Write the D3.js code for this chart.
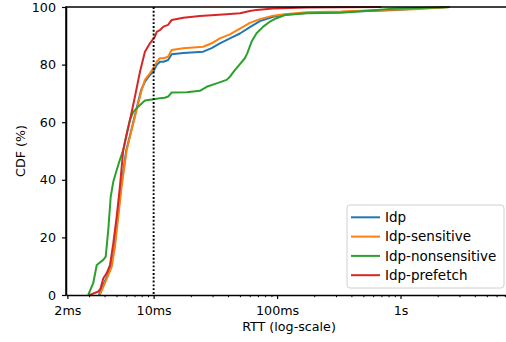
<!DOCTYPE html>
<html><head><meta charset="utf-8">
<script src="https://cdn.jsdelivr.net/npm/d3@7"></script>
<style>
body{margin:0;background:#fff;}
svg text{font-family:"DejaVu Sans",sans-serif;fill:#000;}
</style></head>
<body><svg id="c" width="506" height="342"></svg>
<script>
// ---- data (RTT in ms, CDF in %) ----
const seriesNames = ["Idp", "Idp-sensitive", "Idp-nonsensitive", "Idp-prefetch"];
const seriesColors = ["#1f77b4", "#ff7f0e", "#2ca02c", "#d62728"];

const idpRtt = [3.6, 3.9, 4.2, 4.5, 4.8, 5.1, 5.45, 6.0, 6.6, 7.2, 7.9, 8.5, 9.33, 9.93, 10.6, 11.25, 12.0, 13.1, 14.0, 17.4, 25.2, 29.5, 34.4, 41.5, 50, 60.2, 72.6, 93, 115, 173, 330, 930, 1500, 2500];
const idpCdf = [0, 3.5, 6.5, 9.5, 16, 26.5, 37.5, 50.3, 57.3, 64, 71, 74.1, 76.4, 77.5, 79.9, 81.0, 81.0, 81.6, 83.6, 84.0, 84.5, 85.7, 87.4, 89.1, 90.8, 93.0, 95.1, 96.6, 97.3, 97.9, 98.3, 99.0, 99.6, 100];

const sensRtt = [3.67, 4.03, 4.29, 4.57, 4.86, 5.17, 5.5, 6.05, 6.63, 7.28, 7.99, 8.5, 9.33, 9.93, 10.6, 11.25, 12.0, 13.1, 14.0, 17.4, 25.2, 29.5, 34.4, 41.5, 50, 60.2, 72.6, 93, 115, 173, 330, 700, 1300, 2500];
const sensCdf = [0, 4.1, 6.9, 9.8, 16.8, 27.2, 37.6, 50.3, 57.3, 64.2, 71.2, 74.7, 77.0, 78.7, 81.0, 82.2, 82.2, 82.7, 85.1, 85.7, 86.2, 87.4, 89.1, 90.5, 92.5, 94.5, 95.8, 97.0, 97.5, 98.2, 98.4, 99.0, 99.2, 100];

const nonsRtt = [2.95, 3.24, 3.46, 3.91, 4.09, 4.29, 4.49, 4.71, 5.02, 5.27, 5.67, 6.05, 6.43, 6.84, 7.5, 8.5, 9.63, 11.25, 12.3, 13.1, 14.0, 18.5, 23.7, 26.9, 32.4, 39, 41.5, 45.5, 50, 54.8, 57.3, 62.2, 68.2, 77.2, 87.4, 99, 115.6, 173, 330, 930, 2080, 2500];
const nonsCdf = [0, 4.1, 10.4, 12.2, 13.3, 22.6, 34.1, 39.3, 43.4, 46.3, 50.3, 56.1, 60.8, 63.6, 65.4, 67.5, 67.9, 68.3, 68.5, 68.9, 70.3, 70.4, 70.9, 72.3, 73.5, 74.7, 75.8, 78.1, 80.2, 82.2, 83.9, 88.0, 90.9, 93.2, 94.9, 96.1, 97.2, 97.8, 98.0, 99.5, 99.8, 100];

const prefRtt = [3.0, 3.15, 3.56, 3.72, 3.91, 4.16, 4.43, 4.71, 5.02, 5.33, 5.67, 6.43, 7.06, 7.75, 8.5, 9.33, 10.24, 10.6, 11.25, 12.0, 13.1, 14.0, 17.4, 23.7, 39, 50, 60.2, 68.2, 93, 173, 330, 700];
const prefCdf = [0, 0.3, 1.2, 2.3, 5.8, 7.5, 10.4, 17.9, 27.2, 37.6, 50.3, 60.8, 68.9, 77.5, 84.5, 87.4, 89.7, 91.4, 92.0, 93.2, 93.8, 95.5, 96.3, 96.9, 97.5, 97.8, 98.6, 99.0, 99.5, 99.8, 99.9, 100];

const xTickValues = [2, 10, 100, 1000];
const xTickLabels = ["2ms", "10ms", "100ms", "1s"];
const yTickValues = [0, 20, 40, 60, 80, 100];
const markerRtt = 10;

// ---- drawing ----
const svg = d3.select("#c");
const L = 66, R = 512, T = 7, B = 295;
const x = d3.scaleLog().domain([1.95, 8000]).range([L, R]);
const y = d3.scaleLinear().domain([0, 100]).range([B, T]);
const AX = 12.7;

const series = [
  {rtt: idpRtt, cdf: idpCdf},
  {rtt: sensRtt, cdf: sensCdf},
  {rtt: nonsRtt, cdf: nonsCdf},
  {rtt: prefRtt, cdf: prefCdf}
];

const plot = svg.append("g");
plot.append("clipPath").attr("id","clip").append("rect")
  .attr("x", L).attr("y", T - 2).attr("width", R - L).attr("height", B - T + 2);

const line = d3.line().x(d => x(d[0])).y(d => y(d[1]));
series.forEach((s, i) => {
  const pts = s.rtt.map((r, k) => [r, s.cdf[k]]);
  plot.append("path").datum(pts)
    .attr("d", line).attr("fill", "none")
    .attr("stroke", seriesColors[i]).attr("stroke-width", 2)
    .attr("stroke-linejoin", "round").attr("clip-path", "url(#clip)");
});

// dotted marker line
plot.append("line")
  .attr("x1", x(markerRtt)).attr("x2", x(markerRtt))
  .attr("y1", y(100)).attr("y2", y(0))
  .attr("stroke", "#000").attr("stroke-width", 1.9)
  .attr("stroke-dasharray", "1.9,1.9");

// axes
const xAxis = svg.append("g").attr("transform", `translate(0,${B})`)
  .call(d3.axisBottom(x).tickValues(xTickValues)
    .tickFormat((d, i) => xTickLabels[i]).tickSize(4).tickPadding(6.5).tickSizeOuter(0));
const minor = x.ticks().filter(v => !xTickValues.includes(v) && v >= 1.95 && v <= 8000);
const xMinor = svg.append("g").attr("transform", `translate(0,${B})`)
  .call(d3.axisBottom(x).tickValues(minor).tickFormat("").tickSize(2.2).tickSizeOuter(0));
xMinor.select(".domain").remove();

const yAxis = svg.append("g").attr("transform", `translate(${L},0)`)
  .call(d3.axisLeft(y).tickValues(yTickValues).tickSize(4).tickPadding(6).tickSizeOuter(0));

[xAxis, yAxis].forEach(g => {
  g.selectAll("text").style("font-size", AX + "px").style("font-family", "DejaVu Sans");
  g.select(".domain").attr("stroke-width", 1.5);
  g.selectAll(".tick line").attr("stroke-width", 1.2);
});
xMinor.selectAll(".tick line").attr("stroke-width", 1);

// top spine
svg.append("line").attr("x1", L).attr("x2", R).attr("y1", T).attr("y2", T)
  .attr("stroke", "#000").attr("stroke-width", 1.5);
svg.append("line").attr("x1", L).attr("x2", L).attr("y1", T - 0.75).attr("y2", B)
  .attr("stroke", "#000").attr("stroke-width", 1.5);

// axis titles
svg.append("text").attr("x", (L + R) / 2).attr("y", 331)
  .attr("text-anchor", "middle").style("font-size", AX + "px").text("RTT (log-scale)");
svg.append("text").attr("transform", `translate(25,${(T + B) / 2}) rotate(-90)`)
  .attr("text-anchor", "middle").style("font-size", AX + "px").text("CDF (%)");

// legend
const lg = svg.append("g");
lg.append("rect").attr("x", 347).attr("y", 205).attr("width", 157).attr("height", 83)
  .attr("rx", 3).attr("fill", "#fff").attr("fill-opacity", 0.85)
  .attr("stroke", "#d0d0d0").attr("stroke-width", 1);
seriesNames.forEach((n, i) => {
  const yy = 217.3 + i * 19.3;
  lg.append("line").attr("x1", 351).attr("x2", 380).attr("y1", yy).attr("y2", yy)
    .attr("stroke", seriesColors[i]).attr("stroke-width", 2);
  lg.append("text").attr("x", 385).attr("y", yy).attr("dy", "0.36em")
    .style("font-size", "13.5px").text(n);
});
</script></body></html>
